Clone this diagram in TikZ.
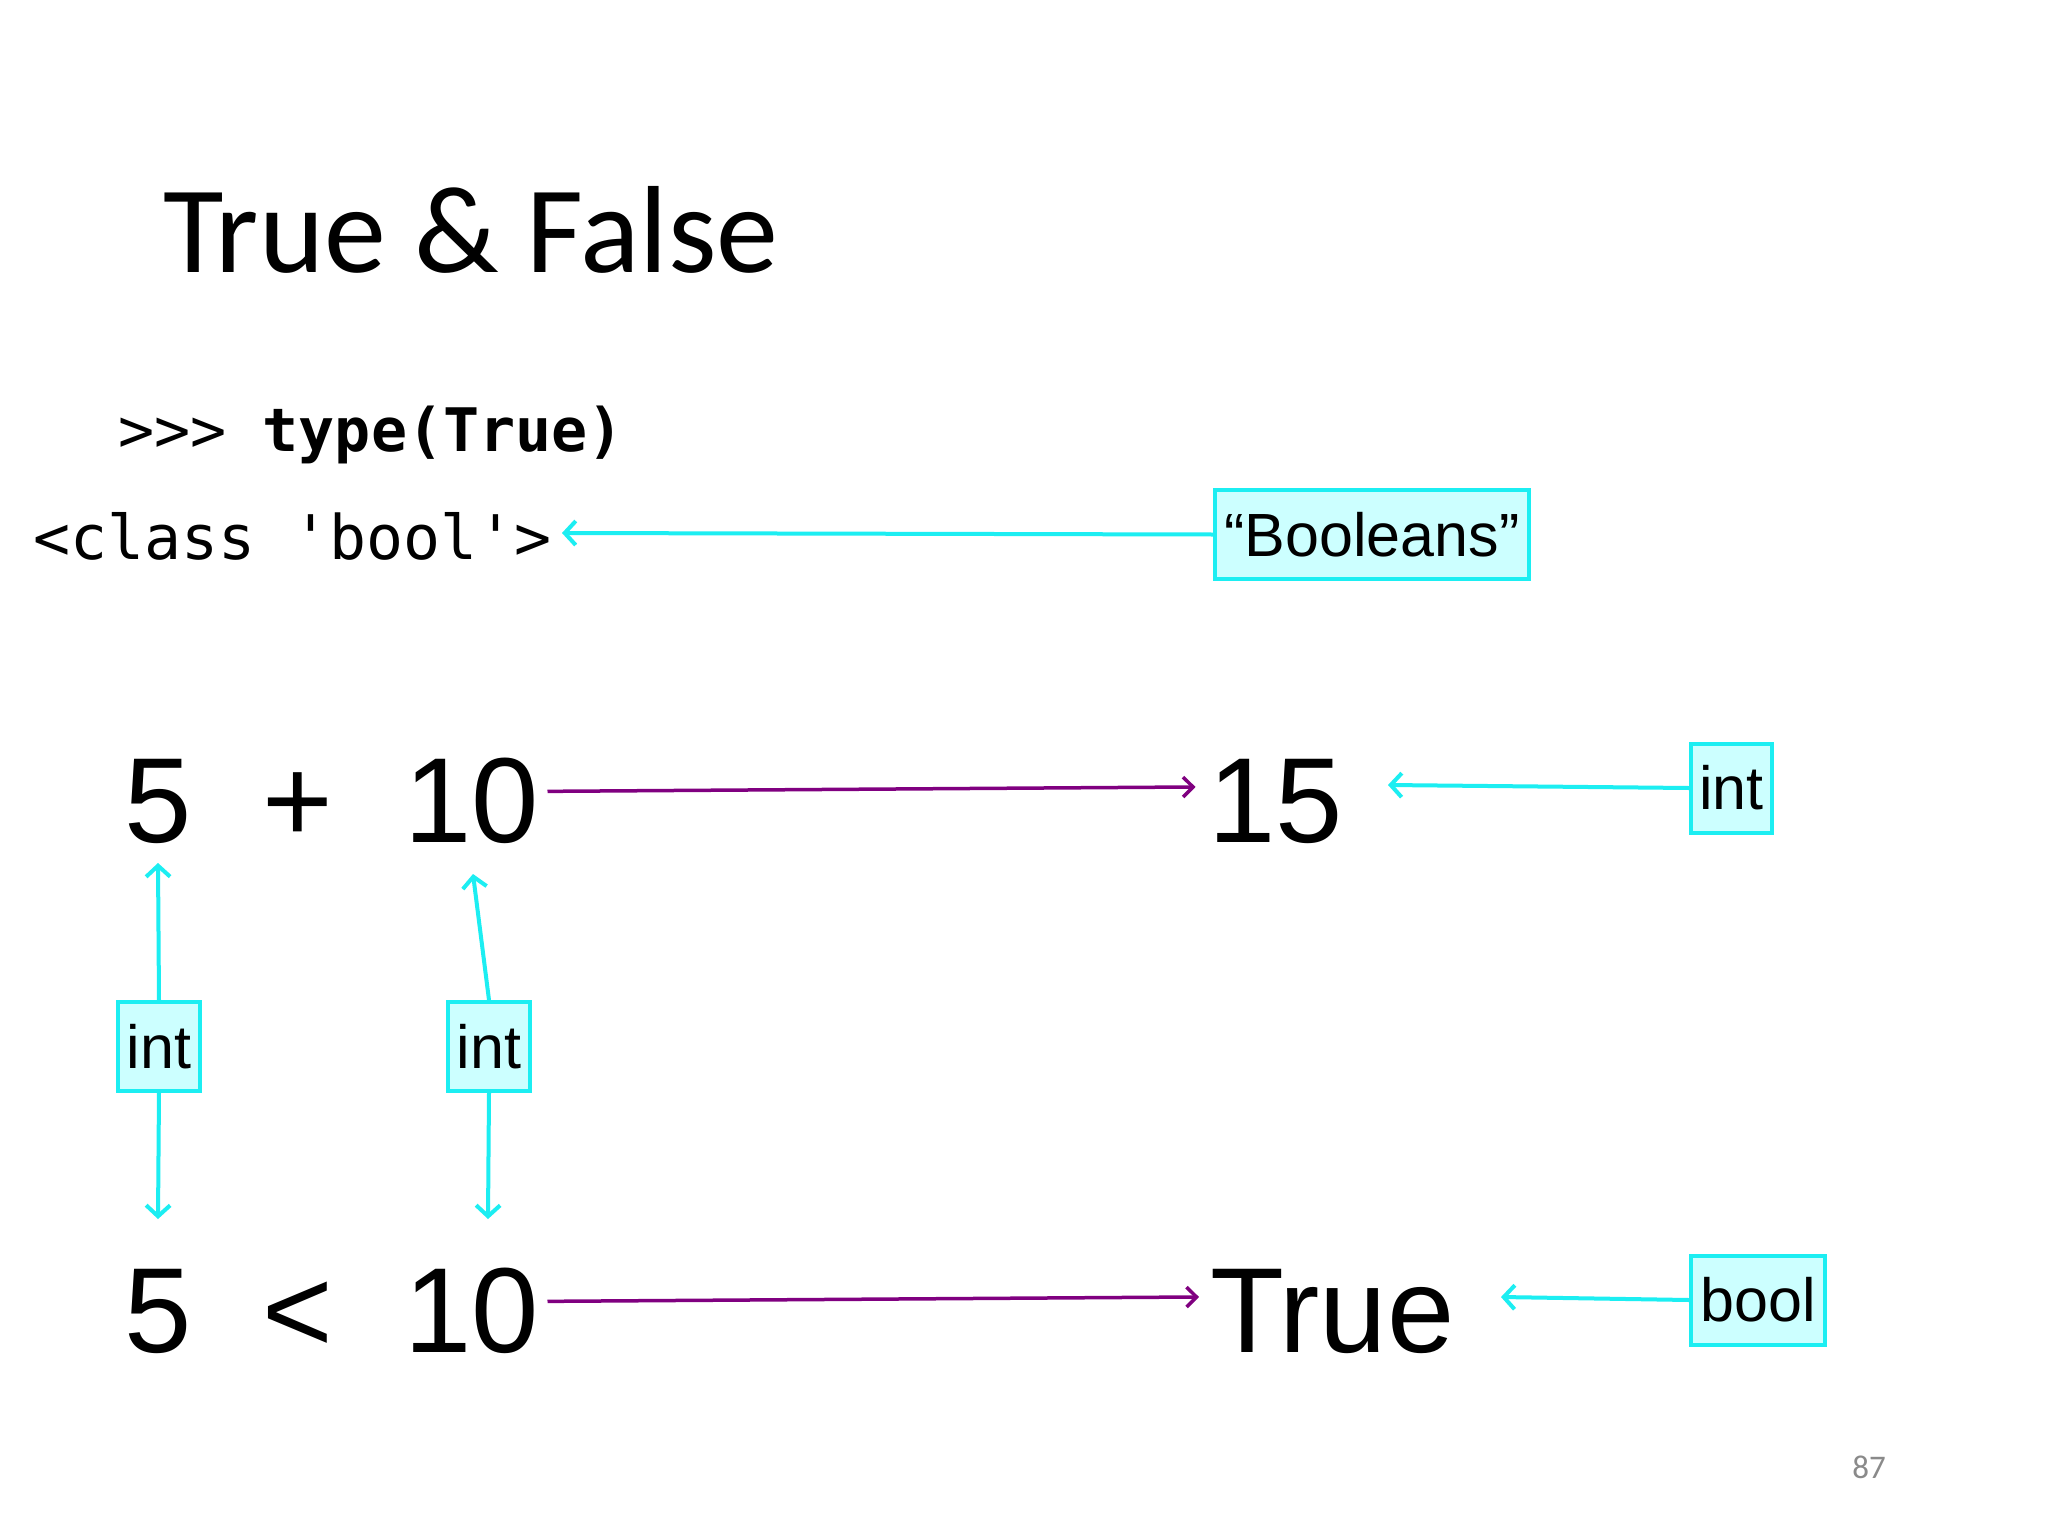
\documentclass[tikz,border=0pt]{standalone}
\usepackage{fontspec}
\setmainfont{Liberation Sans}
\setmonofont{DejaVu Sans Mono}
\newfontfamily\carlito{Carlito}
\usetikzlibrary{arrows.meta}
\definecolor{cyanline}{HTML}{1CEEF2}
\definecolor{cyanfill}{HTML}{CCFFFF}
\definecolor{purpleline}{HTML}{800080}
\definecolor{pagegray}{HTML}{8A8A8A}
\tikzset{
  txt/.style={inner sep=0pt, anchor=base},
  bigtxt/.style={txt, font=\fontsize{121}{140}\selectfont},
  tag/.style={draw=cyanline, fill=cyanfill, line width=4pt, inner sep=0pt,
    font=\fontsize{61}{70}\selectfont, minimum height=89pt},
  cyanarrow/.style={draw=cyanline, line width=4pt, -{Straight Barb[length=11pt,width=24pt]}},
  purplearrow/.style={draw=purpleline, line width=3.5pt, -{Straight Barb[length=10pt,width=20pt]}},
}
\begin{document}
\begin{tikzpicture}[x=1pt,y=-1pt]
\useasboundingbox (0,0) rectangle (2048,1536);
\fill[white] (0,0) rectangle (2048,1536);

% title
\node[txt, anchor=base west] (title) at (163,272)
  {\carlito\fontsize{124}{140}\selectfont True \& False};

% code lines
\node[txt, anchor=base west] (prompt) at (118,451)
  {\fontsize{60}{70}\selectfont\ttfamily >{}>{}> \textbf{type(True)}};
\node[txt, anchor=base west] (cls) at (33,559)
  {\fontsize{61.5}{70}\selectfont\ttfamily <class 'bool'>};

\node[tag, minimum width=314pt] (bools) at (1372,534.5) {“Booleans”};
\coordinate (clsend) at (562,533);
\draw[cyanarrow] (bools.west) -- (clsend);

% first row
\node[bigtxt] (a5) at (158,842) {5};
\node[bigtxt] (aplus) at (298,842) {+};
\node[bigtxt] (a10) at (472,842) {10};
\node[bigtxt] (a15) at (1276,842) {15};
\node[tag, minimum width=81pt] (int3) at (1731.5,788) {int};
\coordinate (end15) at (1388,785);
\draw[purplearrow] ([xshift=8pt,yshift=9pt]a10.east) -- ([xshift=-13pt,yshift=14pt]a15.west);
\draw[cyanarrow] (int3.west) -- (end15);

% second row
\node[bigtxt] (b5) at (158,1352) {5};
\node[bigtxt] (blt) at (298,1352) {<};
\node[bigtxt] (b10) at (472,1352) {10};
\node[bigtxt, anchor=base west] (btrue) at (1210,1352) {True};
\node[tag, minimum width=134pt] (boolt) at (1758,1300) {bool};
\coordinate (endtrue) at (1501,1297);
\draw[purplearrow] ([xshift=8pt,yshift=9pt]b10.east) -- ([xshift=-11pt,yshift=14pt]btrue.west);
\draw[cyanarrow] (boolt.west) -- (endtrue);

% int tags between rows
\node[tag, minimum width=82pt] (int1) at (159,1046.5) {int};
\node[tag, minimum width=82pt] (int2) at (489,1046.5) {int};
\coordinate (up5) at (158,863);
\coordinate (dn5) at (158,1219);
\coordinate (up10) at (473,874);
\coordinate (dn10) at (488,1219);
\draw[cyanarrow] (int1.north) -- (up5);
\draw[cyanarrow] (int1.south) -- (dn5);
\draw[cyanarrow] (int2.north) -- (up10);
\draw[cyanarrow] (int2.south) -- (dn10);

% page number
\node[inner sep=0pt, text=pagegray, font=\carlito\fontsize{33}{40}\selectfont] (pnum) at (1869,1467) {87};
\end{tikzpicture}
\end{document}
